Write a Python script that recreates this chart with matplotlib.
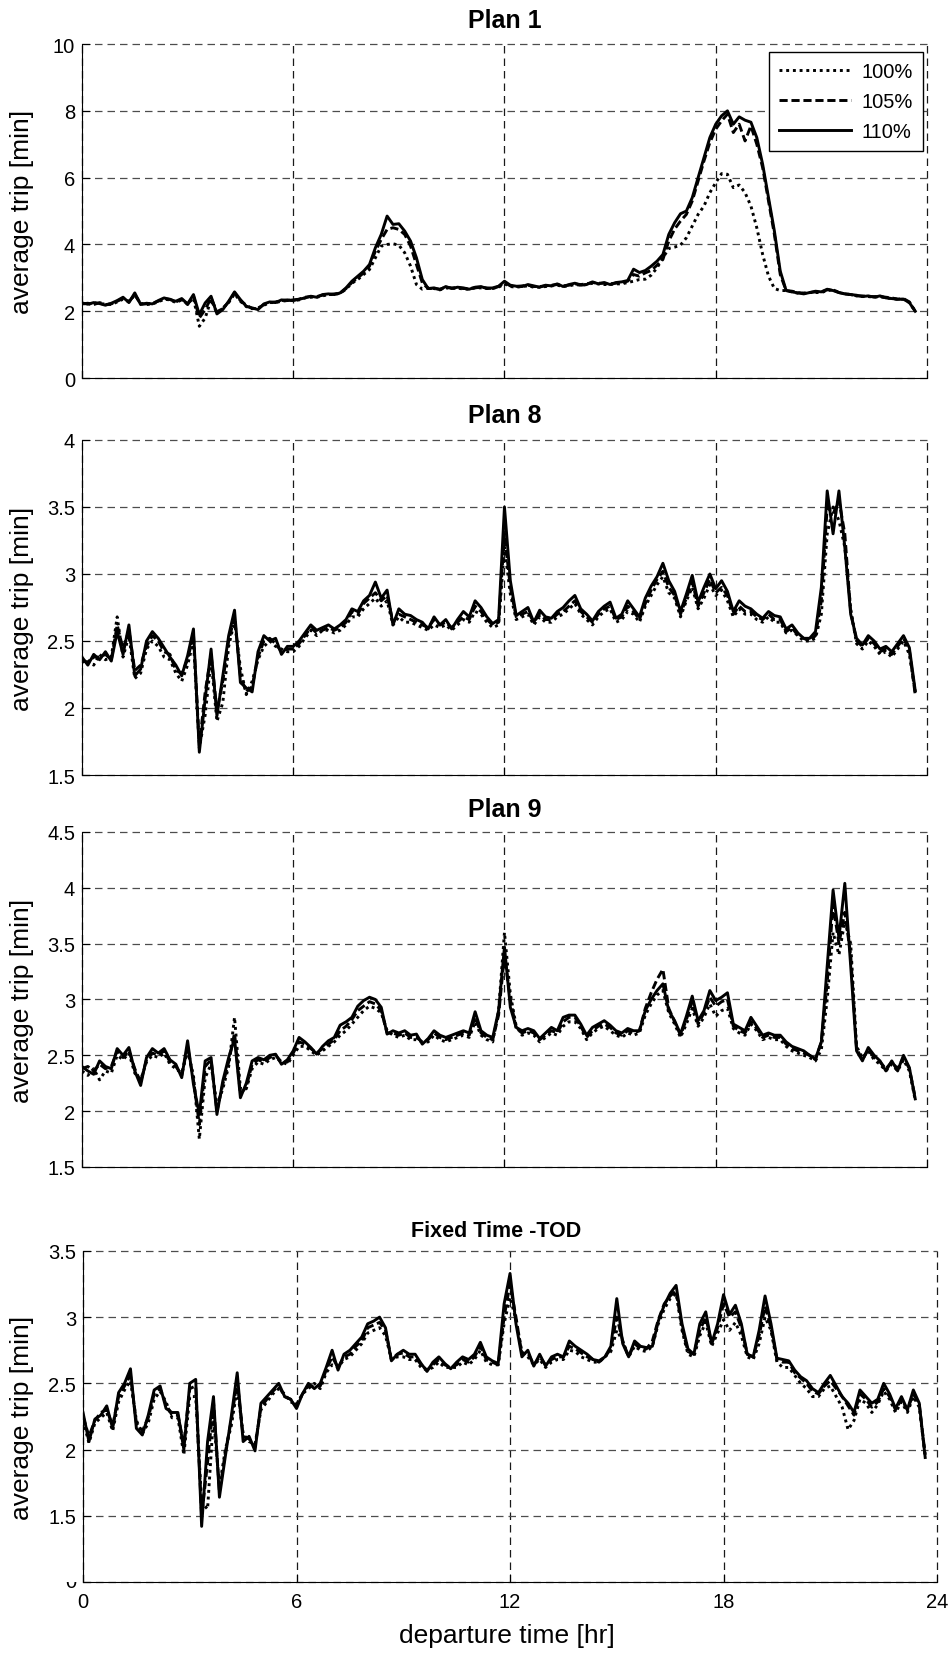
import numpy as np
import matplotlib
matplotlib.use('Agg')
import matplotlib.pyplot as plt
from matplotlib.transforms import Bbox, TransformedBbox, offset_copy

plt.rcParams['font.family'] = ['Liberation Sans', 'DejaVu Sans']

# average trip time [min], one sample every 10 minutes starting at 0:00
plan1_100 = [
    2.24, 2.20, 2.26, 2.22, 2.22, 2.20,
    2.28, 2.36, 2.30, 2.48, 2.24, 2.20,
    2.22, 2.28, 2.36, 2.34, 2.26, 2.34,
    2.22, 2.40, 1.55, 1.80, 2.35, 1.95,
    2.10, 2.26, 2.52, 2.30, 2.14, 2.08,
    2.10, 2.18, 2.26, 2.26, 2.30, 2.32,
    2.32, 2.34, 2.40, 2.42, 2.42, 2.46,
    2.50, 2.50, 2.54, 2.66, 2.84, 2.95,
    3.10, 3.25, 3.60, 3.95, 4.00, 4.02,
    3.98, 3.75, 3.35, 2.80, 2.66, 2.70,
    2.68, 2.64, 2.70, 2.68, 2.70, 2.66,
    2.66, 2.70, 2.70, 2.68, 2.68, 2.72,
    2.82, 2.74, 2.72, 2.74, 2.76, 2.72,
    2.72, 2.74, 2.76, 2.78, 2.74, 2.76,
    2.80, 2.78, 2.80, 2.84, 2.82, 2.80,
    2.80, 2.82, 2.82, 2.86, 2.90, 2.95,
    2.96, 3.08, 3.30, 3.60, 3.88, 3.92,
    3.98, 4.20, 4.55, 4.90, 5.15, 5.55,
    5.85, 6.12, 6.10, 5.70, 5.78, 5.55,
    5.15, 4.50, 3.70, 3.05, 2.68, 2.62,
    2.62, 2.58, 2.54, 2.54, 2.56, 2.56,
    2.56, 2.62, 2.64, 2.56, 2.52, 2.50,
    2.46, 2.44, 2.44, 2.42, 2.44, 2.40,
    2.38, 2.36, 2.36, 2.26, 2.00]
plan1_105 = [
    2.22, 2.24, 2.20, 2.26, 2.20, 2.22,
    2.30, 2.38, 2.28, 2.50, 2.22, 2.22,
    2.24, 2.30, 2.38, 2.36, 2.28, 2.36,
    2.20, 2.46, 1.80, 2.05, 2.40, 1.98,
    2.08, 2.28, 2.55, 2.32, 2.18, 2.08,
    2.08, 2.20, 2.26, 2.28, 2.32, 2.34,
    2.32, 2.36, 2.42, 2.44, 2.44, 2.48,
    2.50, 2.52, 2.54, 2.68, 2.86, 3.00,
    3.15, 3.35, 3.80, 4.15, 4.45, 4.50,
    4.45, 4.30, 3.95, 3.40, 2.85, 2.68,
    2.68, 2.66, 2.72, 2.70, 2.70, 2.68,
    2.68, 2.70, 2.72, 2.70, 2.68, 2.74,
    2.86, 2.76, 2.74, 2.76, 2.78, 2.74,
    2.74, 2.76, 2.78, 2.80, 2.76, 2.78,
    2.82, 2.80, 2.82, 2.86, 2.84, 2.84,
    2.82, 2.84, 2.86, 2.90, 3.10, 3.05,
    3.15, 3.22, 3.38, 3.55, 4.10, 4.46,
    4.70, 4.90, 5.30, 5.90, 6.50, 7.05,
    7.45, 7.70, 7.90, 7.35, 7.60, 7.10,
    7.55, 7.00, 6.30, 5.30, 4.30, 3.10,
    2.62, 2.60, 2.56, 2.54, 2.56, 2.58,
    2.58, 2.64, 2.64, 2.56, 2.52, 2.50,
    2.46, 2.46, 2.44, 2.44, 2.44, 2.42,
    2.40, 2.36, 2.38, 2.28, 2.00]
plan1_110 = [
    2.25, 2.21, 2.26, 2.23, 2.18, 2.24,
    2.32, 2.42, 2.26, 2.55, 2.20, 2.24,
    2.22, 2.32, 2.40, 2.35, 2.30, 2.38,
    2.22, 2.50, 1.90, 2.25, 2.45, 1.92,
    2.05, 2.30, 2.58, 2.35, 2.15, 2.10,
    2.05, 2.22, 2.28, 2.26, 2.34, 2.32,
    2.34, 2.36, 2.40, 2.45, 2.42, 2.50,
    2.52, 2.50, 2.55, 2.70, 2.90, 3.05,
    3.20, 3.40, 3.90, 4.30, 4.85, 4.60,
    4.62, 4.40, 4.10, 3.60, 2.95, 2.68,
    2.70, 2.65, 2.74, 2.68, 2.72, 2.70,
    2.66, 2.72, 2.74, 2.68, 2.70, 2.75,
    2.90, 2.78, 2.75, 2.74, 2.80, 2.76,
    2.72, 2.78, 2.76, 2.82, 2.74, 2.80,
    2.84, 2.78, 2.80, 2.88, 2.82, 2.86,
    2.80, 2.86, 2.88, 2.92, 3.26, 3.16,
    3.22, 3.35, 3.50, 3.70, 4.30, 4.65,
    4.92, 5.00, 5.40, 6.00, 6.60, 7.20,
    7.60, 7.85, 8.00, 7.60, 7.82, 7.72,
    7.66, 7.20, 6.40, 5.40, 4.40, 3.20,
    2.62, 2.58, 2.55, 2.52, 2.56, 2.60,
    2.58, 2.66, 2.62, 2.56, 2.52, 2.50,
    2.48, 2.44, 2.46, 2.42, 2.46, 2.40,
    2.38, 2.36, 2.36, 2.26, 2.00]

plan8_100 = [
    2.34, 2.36, 2.32, 2.40, 2.36, 2.38,
    2.68, 2.38, 2.54, 2.22, 2.26, 2.44,
    2.50, 2.46, 2.38, 2.36, 2.26, 2.20,
    2.32, 2.50, 1.70, 1.95, 2.36, 1.90,
    2.04, 2.46, 2.65, 2.30, 2.10, 2.20,
    2.36, 2.46, 2.50, 2.46, 2.44, 2.42,
    2.42, 2.46, 2.52, 2.58, 2.54, 2.58,
    2.58, 2.56, 2.58, 2.62, 2.68, 2.68,
    2.74, 2.78, 2.82, 2.76, 2.80, 2.62,
    2.68, 2.64, 2.64, 2.62, 2.60, 2.58,
    2.62, 2.60, 2.62, 2.58, 2.62, 2.66,
    2.64, 2.72, 2.70, 2.64, 2.60, 2.62,
    3.20, 2.85, 2.66, 2.68, 2.70, 2.62,
    2.68, 2.64, 2.64, 2.68, 2.70, 2.74,
    2.78, 2.70, 2.66, 2.62, 2.68, 2.72,
    2.74, 2.64, 2.66, 2.72, 2.70, 2.64,
    2.76, 2.84, 2.92, 2.98, 2.86, 2.82,
    2.68, 2.80, 2.90, 2.74, 2.82, 2.92,
    2.84, 2.88, 2.80, 2.68, 2.74, 2.70,
    2.70, 2.66, 2.64, 2.68, 2.64, 2.64,
    2.56, 2.58, 2.54, 2.50, 2.50, 2.52,
    2.70, 3.30, 3.50, 3.40, 3.20, 2.74,
    2.48, 2.44, 2.50, 2.46, 2.40, 2.42,
    2.38, 2.44, 2.50, 2.40, 2.12]
plan8_105 = [
    2.36, 2.34, 2.38, 2.38, 2.40, 2.36,
    2.62, 2.44, 2.58, 2.28, 2.32, 2.46,
    2.54, 2.50, 2.42, 2.40, 2.28, 2.26,
    2.36, 2.55, 1.72, 2.12, 2.40, 1.98,
    2.20, 2.50, 2.68, 2.24, 2.12, 2.16,
    2.38, 2.50, 2.52, 2.48, 2.42, 2.44,
    2.44, 2.48, 2.54, 2.60, 2.56, 2.58,
    2.60, 2.58, 2.60, 2.64, 2.72, 2.70,
    2.78, 2.82, 2.86, 2.80, 2.84, 2.64,
    2.70, 2.68, 2.66, 2.64, 2.62, 2.60,
    2.66, 2.62, 2.64, 2.60, 2.64, 2.68,
    2.66, 2.76, 2.72, 2.66, 2.62, 2.64,
    3.30, 2.90, 2.68, 2.70, 2.72, 2.64,
    2.70, 2.66, 2.66, 2.70, 2.72, 2.76,
    2.80, 2.72, 2.68, 2.64, 2.70, 2.74,
    2.76, 2.66, 2.68, 2.76, 2.72, 2.66,
    2.78, 2.88, 2.96, 3.02, 2.90, 2.84,
    2.70, 2.82, 2.94, 2.76, 2.86, 2.96,
    2.86, 2.90, 2.84, 2.70, 2.76, 2.72,
    2.72, 2.68, 2.66, 2.70, 2.66, 2.66,
    2.57, 2.60, 2.54, 2.52, 2.50, 2.54,
    2.80, 3.50, 3.45, 3.55, 3.30, 2.72,
    2.50, 2.46, 2.52, 2.48, 2.42, 2.44,
    2.40, 2.46, 2.52, 2.43, 2.10]
plan8_110 = [
    2.38, 2.32, 2.40, 2.36, 2.42, 2.35,
    2.57, 2.40, 2.62, 2.24, 2.29, 2.50,
    2.57, 2.52, 2.45, 2.38, 2.32, 2.24,
    2.39, 2.59, 1.67, 2.07, 2.44, 1.94,
    2.24, 2.54, 2.73, 2.19, 2.15, 2.12,
    2.42, 2.54, 2.50, 2.52, 2.40, 2.46,
    2.46, 2.50, 2.56, 2.62, 2.58, 2.60,
    2.62, 2.59, 2.62, 2.66, 2.74, 2.72,
    2.80, 2.84, 2.94, 2.82, 2.88, 2.62,
    2.74, 2.70, 2.69, 2.66, 2.64, 2.59,
    2.68, 2.62, 2.66, 2.59, 2.66, 2.72,
    2.68, 2.80, 2.75, 2.68, 2.63, 2.66,
    3.50, 2.95, 2.69, 2.72, 2.75, 2.64,
    2.73, 2.68, 2.67, 2.72, 2.75, 2.80,
    2.84, 2.74, 2.70, 2.65, 2.72, 2.76,
    2.79, 2.67, 2.70, 2.80, 2.74, 2.68,
    2.82, 2.91, 2.98, 3.08, 2.95, 2.87,
    2.72, 2.85, 2.99, 2.79, 2.90, 3.00,
    2.89, 2.95, 2.87, 2.72, 2.80, 2.76,
    2.74, 2.70, 2.67, 2.72, 2.69, 2.68,
    2.59, 2.62, 2.56, 2.52, 2.52, 2.57,
    2.90, 3.62, 3.30, 3.62, 3.20, 2.70,
    2.52, 2.47, 2.54, 2.50, 2.44, 2.46,
    2.42, 2.48, 2.54, 2.45, 2.13]

plan9_100 = [
    2.36, 2.32, 2.38, 2.28, 2.36, 2.34,
    2.50, 2.46, 2.52, 2.34, 2.28, 2.44,
    2.50, 2.48, 2.52, 2.42, 2.38, 2.34,
    2.54, 2.32, 1.75, 2.30, 2.42, 2.05,
    2.20, 2.40, 2.84, 2.20, 2.20, 2.38,
    2.44, 2.42, 2.46, 2.48, 2.44, 2.42,
    2.50, 2.58, 2.58, 2.54, 2.50, 2.54,
    2.58, 2.62, 2.68, 2.72, 2.78, 2.84,
    2.90, 2.94, 2.92, 2.88, 2.72, 2.68,
    2.66, 2.68, 2.64, 2.64, 2.62, 2.62,
    2.68, 2.64, 2.62, 2.64, 2.66, 2.68,
    2.66, 2.80, 2.68, 2.64, 2.62, 2.90,
    3.60, 3.05, 2.76, 2.68, 2.70, 2.68,
    2.62, 2.66, 2.70, 2.68, 2.76, 2.80,
    2.80, 2.74, 2.64, 2.70, 2.74, 2.76,
    2.72, 2.68, 2.66, 2.70, 2.68, 2.70,
    2.86, 2.96, 3.04, 3.08, 2.88, 2.78,
    2.66, 2.78, 2.92, 2.76, 2.84, 2.96,
    2.85, 2.90, 2.92, 2.74, 2.70, 2.68,
    2.78, 2.72, 2.64, 2.66, 2.64, 2.64,
    2.58, 2.54, 2.52, 2.50, 2.48, 2.45,
    2.55, 3.00, 3.60, 3.40, 3.70, 3.50,
    2.58, 2.48, 2.54, 2.46, 2.42, 2.36,
    2.42, 2.36, 2.46, 2.36, 2.10]
plan9_105 = [
    2.38, 2.40, 2.36, 2.42, 2.38, 2.40,
    2.54, 2.48, 2.54, 2.38, 2.26, 2.46,
    2.52, 2.50, 2.54, 2.44, 2.40, 2.32,
    2.58, 2.28, 1.88, 2.40, 2.46, 2.00,
    2.24, 2.44, 2.70, 2.15, 2.22, 2.42,
    2.46, 2.44, 2.48, 2.50, 2.44, 2.44,
    2.52, 2.62, 2.60, 2.56, 2.52, 2.56,
    2.60, 2.64, 2.72, 2.76, 2.82, 2.90,
    2.94, 2.98, 2.96, 2.90, 2.70, 2.70,
    2.68, 2.70, 2.66, 2.66, 2.62, 2.64,
    2.70, 2.66, 2.64, 2.66, 2.68, 2.70,
    2.68, 2.84, 2.70, 2.66, 2.64, 2.86,
    3.40, 3.00, 2.74, 2.70, 2.72, 2.70,
    2.64, 2.68, 2.72, 2.70, 2.80, 2.84,
    2.84, 2.76, 2.66, 2.72, 2.76, 2.78,
    2.75, 2.70, 2.68, 2.72, 2.70, 2.72,
    2.92, 3.06, 3.18, 3.27, 2.92, 2.80,
    2.68, 2.82, 2.98, 2.78, 2.88, 3.02,
    2.94, 2.98, 3.00, 2.76, 2.72, 2.70,
    2.80, 2.74, 2.66, 2.68, 2.66, 2.66,
    2.60, 2.56, 2.54, 2.52, 2.50, 2.46,
    2.62, 3.15, 3.85, 3.50, 3.78, 3.40,
    2.56, 2.46, 2.55, 2.48, 2.44, 2.38,
    2.44, 2.38, 2.48, 2.38, 2.12]
plan9_110 = [
    2.40, 2.36, 2.33, 2.45, 2.40, 2.38,
    2.56, 2.50, 2.57, 2.36, 2.23, 2.48,
    2.56, 2.52, 2.56, 2.46, 2.42, 2.30,
    2.63, 2.24, 1.97, 2.45, 2.48, 1.97,
    2.27, 2.48, 2.65, 2.12, 2.25, 2.45,
    2.48, 2.46, 2.50, 2.51, 2.42, 2.46,
    2.54, 2.66, 2.62, 2.57, 2.51, 2.58,
    2.63, 2.66, 2.77, 2.80, 2.84, 2.94,
    2.99, 3.02, 3.00, 2.93, 2.69, 2.72,
    2.70, 2.72, 2.68, 2.69, 2.60, 2.65,
    2.72, 2.68, 2.66, 2.68, 2.70, 2.72,
    2.70, 2.89, 2.72, 2.68, 2.66, 2.90,
    3.47, 2.93, 2.75, 2.72, 2.74, 2.72,
    2.65, 2.70, 2.75, 2.72, 2.84, 2.86,
    2.86, 2.78, 2.68, 2.75, 2.78, 2.81,
    2.77, 2.72, 2.70, 2.74, 2.72, 2.72,
    2.90, 3.00, 3.08, 3.14, 2.90, 2.81,
    2.69, 2.85, 3.03, 2.81, 2.90, 3.08,
    2.99, 3.02, 3.06, 2.78, 2.75, 2.72,
    2.84, 2.76, 2.68, 2.70, 2.68, 2.68,
    2.62, 2.58, 2.56, 2.54, 2.50, 2.47,
    2.62, 3.30, 3.98, 3.55, 4.04, 3.30,
    2.54, 2.45, 2.57, 2.50, 2.45, 2.36,
    2.45, 2.36, 2.50, 2.39, 2.11]

fixed_100 = [
    2.22, 2.05, 2.20, 2.24, 2.28, 2.14,
    2.36, 2.45, 2.52, 2.22, 2.12, 2.20,
    2.38, 2.44, 2.36, 2.24, 2.24, 1.96,
    2.40, 2.40, 1.60, 1.55, 2.25, 1.72,
    2.00, 2.18, 2.46, 2.12, 2.06, 2.04,
    2.30, 2.36, 2.42, 2.46, 2.42, 2.36,
    2.34, 2.42, 2.46, 2.50, 2.46, 2.58,
    2.64, 2.62, 2.68, 2.70, 2.75, 2.80,
    2.88, 2.90, 2.92, 2.86, 2.68, 2.70,
    2.70, 2.68, 2.68, 2.62, 2.60, 2.62,
    2.66, 2.62, 2.62, 2.62, 2.66, 2.64,
    2.68, 2.75, 2.66, 2.64, 2.64, 2.95,
    3.15, 2.98, 2.74, 2.70, 2.64, 2.68,
    2.62, 2.66, 2.68, 2.68, 2.75, 2.74,
    2.70, 2.68, 2.66, 2.66, 2.70, 2.74,
    2.90, 2.82, 2.70, 2.78, 2.75, 2.74,
    2.78, 2.95, 3.06, 3.14, 3.18, 2.90,
    2.72, 2.70, 2.86, 2.96, 2.78, 2.88,
    2.98, 2.90, 2.96, 2.86, 2.70, 2.68,
    2.80, 3.00, 2.90, 2.66, 2.62, 2.62,
    2.56, 2.50, 2.46, 2.40, 2.40, 2.46,
    2.48, 2.40, 2.32, 2.15, 2.22, 2.38,
    2.35, 2.28, 2.34, 2.44, 2.38, 2.28,
    2.36, 2.28, 2.40, 2.32, 1.95]
fixed_105 = [
    2.25, 2.10, 2.22, 2.28, 2.30, 2.18,
    2.40, 2.48, 2.56, 2.20, 2.14, 2.24,
    2.42, 2.46, 2.34, 2.26, 2.26, 2.04,
    2.46, 2.48, 1.50, 1.90, 2.36, 1.68,
    1.98, 2.22, 2.52, 2.10, 2.08, 2.02,
    2.32, 2.38, 2.44, 2.48, 2.40, 2.38,
    2.33, 2.42, 2.48, 2.48, 2.48, 2.60,
    2.70, 2.62, 2.70, 2.72, 2.78, 2.82,
    2.92, 2.94, 2.96, 2.90, 2.68, 2.72,
    2.73, 2.70, 2.70, 2.64, 2.60, 2.64,
    2.68, 2.64, 2.62, 2.64, 2.68, 2.66,
    2.70, 2.78, 2.68, 2.66, 2.64, 3.00,
    3.25, 3.00, 2.72, 2.73, 2.64, 2.70,
    2.64, 2.68, 2.70, 2.70, 2.78, 2.76,
    2.73, 2.70, 2.68, 2.66, 2.70, 2.76,
    3.00, 2.82, 2.70, 2.80, 2.76, 2.76,
    2.82, 2.98, 3.10, 3.16, 3.20, 2.92,
    2.74, 2.72, 2.90, 3.00, 2.80, 2.92,
    3.10, 3.00, 3.04, 2.92, 2.72, 2.70,
    2.86, 3.08, 2.92, 2.68, 2.66, 2.66,
    2.58, 2.54, 2.50, 2.44, 2.42, 2.48,
    2.52, 2.46, 2.40, 2.33, 2.26, 2.42,
    2.38, 2.32, 2.36, 2.46, 2.40, 2.30,
    2.38, 2.30, 2.42, 2.34, 1.96]
fixed_110 = [
    2.28, 2.06, 2.23, 2.26, 2.33, 2.16,
    2.43, 2.50, 2.61, 2.16, 2.11, 2.26,
    2.45, 2.48, 2.31, 2.28, 2.28, 2.00,
    2.50, 2.53, 1.42, 2.06, 2.40, 1.64,
    1.95, 2.25, 2.58, 2.06, 2.10, 1.99,
    2.35, 2.40, 2.45, 2.50, 2.40, 2.38,
    2.31, 2.42, 2.50, 2.46, 2.50, 2.62,
    2.75, 2.60, 2.72, 2.75, 2.80, 2.85,
    2.95, 2.97, 3.00, 2.92, 2.67, 2.72,
    2.75, 2.72, 2.72, 2.65, 2.59, 2.66,
    2.70, 2.65, 2.61, 2.66, 2.70, 2.68,
    2.72, 2.81, 2.70, 2.67, 2.65, 3.10,
    3.33, 2.95, 2.70, 2.75, 2.63, 2.72,
    2.63, 2.70, 2.72, 2.70, 2.82, 2.78,
    2.75, 2.72, 2.68, 2.67, 2.70, 2.78,
    3.14, 2.80, 2.70, 2.82, 2.78, 2.77,
    2.78, 2.97, 3.09, 3.18, 3.24, 2.95,
    2.76, 2.72, 2.95, 3.04, 2.80, 2.95,
    3.17, 3.02, 3.09, 2.95, 2.72, 2.70,
    2.90, 3.16, 2.95, 2.69, 2.68, 2.67,
    2.60, 2.55, 2.52, 2.46, 2.43, 2.50,
    2.56, 2.48, 2.40, 2.35, 2.28, 2.45,
    2.40, 2.35, 2.38, 2.50, 2.42, 2.31,
    2.40, 2.30, 2.45, 2.35, 1.94]

etiquetas = ['100%', '105%', '110%']
titulos = ['Plan 1', 'Plan 8', 'Plan 9', 'Fixed Time -TOD']
limites_y = [(0, 10), (1.5, 4), (1.5, 4.5), (1, 3.5)]
ticks_y = [[0, 2, 4, 6, 8, 10],
           [1.5, 2, 2.5, 3, 3.5, 4],
           [1.5, 2, 2.5, 3, 3.5, 4, 4.5],
           [1, 1.5, 2, 2.5, 3, 3.5]]
ticks_x = [0, 6, 12, 18, 24]

paneles = [(plan1_100, plan1_105, plan1_110),
           (plan8_100, plan8_105, plan8_110),
           (plan9_100, plan9_105, plan9_110),
           (fixed_100, fixed_105, fixed_110)]

estilos = [(0, (1.0, 1.3)), (0, (2.8, 1.3)), '-']
posiciones = [[0.0861, 0.7711, 0.8876, 0.2017],
              [0.0861, 0.5314, 0.8876, 0.2023],
              [0.0861, 0.2947, 0.8876, 0.2023],
              [0.0872, 0.0441, 0.8971, 0.1999]]


def formato_tick(v):
    return '%g' % v


def dibujar_panel(ax, datos, ylim, yticks, ultimo):
    for serie, estilo, etiqueta in zip(datos, estilos, etiquetas):
        horas = np.arange(len(serie)) / 6.0
        ax.plot(horas, serie, color='k', linestyle=estilo, linewidth=2.1,
                label=etiqueta)
    ax.set_xlim(0, 24)
    ax.set_ylim(*ylim)
    ax.set_xticks(ticks_x)
    ax.set_yticks(yticks)
    ax.set_yticklabels([formato_tick(v) for v in yticks])
    if ultimo:
        ax.set_xticklabels([str(t) for t in ticks_x])
    else:
        ax.set_xticklabels([])
    ax.tick_params(direction='in', length=6, width=0.8, labelsize=14.5,
                   top=False, right=False)
    ax.tick_params(axis='y', pad=5)
    ax.tick_params(axis='x', pad=7)
    ax.spines['top'].set_visible(False)
    ax.spines['right'].set_visible(False)
    ax.spines['left'].set_linewidth(0.8)
    ax.spines['bottom'].set_linewidth(0.8)
    ax.grid(True, axis='y', color='0.3', linestyle=(0, (6, 4)), linewidth=0.9)
    ax.grid(True, axis='x', color='0.1', linestyle=(0, (6, 4)), linewidth=0.9)
    # las lineas de rejilla en los bordes (arriba y derecha) deben verse enteras
    for tick in ax.xaxis.get_major_ticks() + ax.yaxis.get_major_ticks():
        tick.gridline.set_clip_on(False)
    ax.set_ylabel('average trip [min]', fontsize=19)
    ax.yaxis.set_label_coords(-0.057, 0.5)


fig = plt.figure(figsize=(9.52, 16.56), dpi=100)
ejes = []
for i, datos in enumerate(paneles):
    ax = fig.add_axes(posiciones[i])
    dibujar_panel(ax, datos, limites_y[i], ticks_y[i], i == 3)
    ejes.append(ax)

# titulos
alto_px = [334, 335, 335, 331]
sube_px = [17, 18, 16, 15]
for i, ax in enumerate(ejes):
    if i < 3:
        ax.text(0.5, 1 + sube_px[i] / alto_px[i], titulos[i], transform=ax.transAxes,
                ha='center', va='baseline', fontsize=18, fontweight='bold')
    else:
        ax.text(0.4836, 1 + sube_px[i] / alto_px[i], titulos[i], transform=ax.transAxes,
                ha='center', va='baseline', fontsize=15.5, fontweight='bold')

# leyenda
leg = ejes[0].legend(loc='upper right', bbox_to_anchor=(0.9953, 0.976),
                     borderaxespad=0, fancybox=False, framealpha=1,
                     edgecolor='k', fontsize=14.5, handlelength=3.6,
                     labelspacing=0.55, borderpad=0.5, handletextpad=0.5)
leg.get_frame().set_linewidth(1.0)

# eje inferior: la etiqueta del 1 sale cortada en el original
ax4 = ejes[3]
etiquetas_y4 = ['' if v == 1 else formato_tick(v) for v in ticks_y[3]]
ax4.set_yticklabels(etiquetas_y4)
tr = offset_copy(ax4.get_yaxis_transform(), fig=fig, x=-5, y=0, units='points')
cortada = ax4.text(0, 1.0, '0', transform=tr, ha='right', va='center',
                   fontsize=14.5, clip_on=True)
cortada.set_clip_path(None)
cortada.set_clip_box(TransformedBbox(Bbox.from_extents(-0.3, -0.3, 0.0, 0.0),
                                     ax4.transAxes))

ax4.set_xlabel('departure time [hr]', fontsize=19)
ax4.xaxis.set_label_coords(0.4965, -0.125)

fig.savefig('out.png', dpi=100)
